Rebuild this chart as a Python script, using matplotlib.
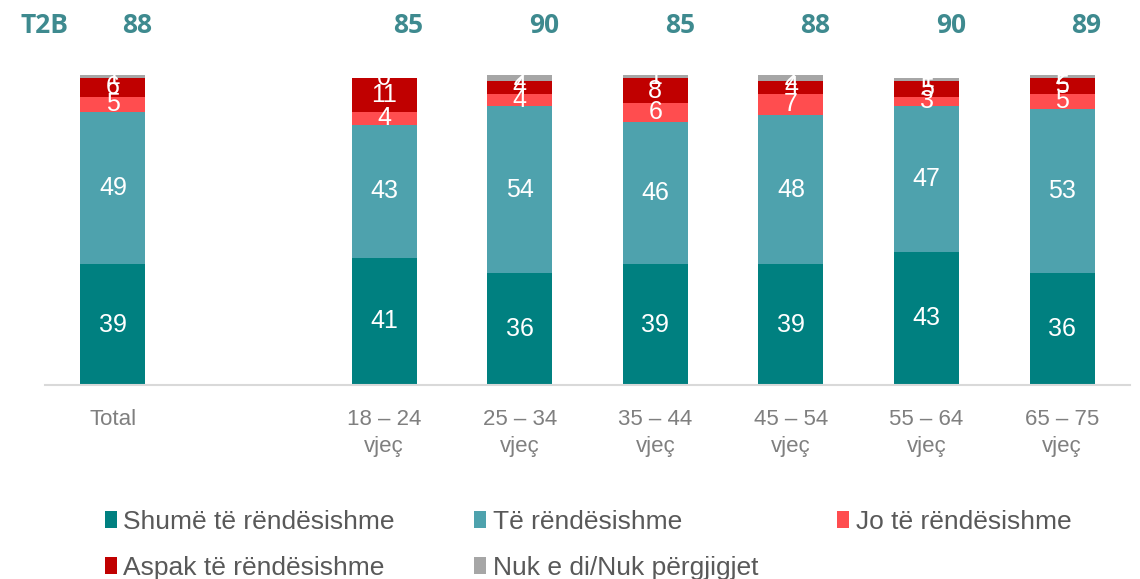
import matplotlib
matplotlib.use("Agg")
import matplotlib.pyplot as plt
import numpy as np

categories = ["Total", "18 – 24\nvjeç", "25 – 34\nvjeç", "35 – 44\nvjeç",
              "45 – 54\nvjeç", "55 – 64\nvjeç", "65 – 75\nvjeç"]
series_names = ["Shumë të rëndësishme", "Të rëndësishme", "Jo të rëndësishme",
                "Aspak të rëndësishme", "Nuk e di/Nuk përgjigjet"]
shume = [39, 41, 36, 39, 39, 43, 36]
te = [49, 43, 54, 46, 48, 47, 53]
jo = [5, 4, 4, 6, 7, 3, 5]
aspak = [6, 11, 4, 8, 4, 5, 5]
nuk = [1, 0, 2, 1, 2, 1, 2]
t2b = [88, 85, 90, 85, 88, 90, 89]

colors = ["#008080", "#4EA2AD", "#FF4D4F", "#C00000", "#A6A6A6"]
positions = [0, 2, 3, 4, 5, 6, 7]

plt.rcParams['font.family'] = ['Liberation Sans', 'DejaVu Sans']

fig = plt.figure(figsize=(11.4, 5.79), dpi=100)
ax = fig.add_axes([45/1140, 1 - 385/579, (1130-45)/1140, (385-75)/579])

series = [shume, te, jo, aspak, nuk]
bottom = np.zeros(len(categories))
handles = []
for name, vals, col in zip(series_names, series, colors):
    bars = ax.bar(positions, vals, bottom=bottom, width=0.48, color=col,
                  label=name, zorder=2)
    ax.bar_label(bars, labels=[str(v) for v in vals], label_type='center',
                 color='white', fontsize=18)
    handles.append(bars)
    bottom += np.array(vals)

ax.set_xlim(-0.5, 7.5)
ax.set_ylim(0, 100)
ax.set_yticks([])
ax.set_xticks(positions)
ax.set_xticklabels(categories, fontsize=16, color='#7F7F7F', linespacing=1.4)
ax.tick_params(axis='x', length=0, pad=17)
for s in ['top', 'right', 'left']:
    ax.spines[s].set_visible(False)
ax.spines['bottom'].set_color('#D9D9D9')
ax.spines['bottom'].set_linewidth(1.5)

t2b_color = '#3E8A8F'
ax.text(-0.68, 116, "T2B", color=t2b_color, fontsize=19, fontweight='bold',
        family=['Open Sans', 'DejaVu Sans'], ha='left', va='center', clip_on=False)
for p, v in zip(positions, t2b):
    ax.text(p + 0.18, 116, str(v), color=t2b_color, fontsize=19, fontweight='bold',
            family=['Open Sans', 'DejaVu Sans'], ha='center', va='center', clip_on=False)

order = [0, 3, 1, 4, 2]
leg = fig.legend([handles[i] for i in order], [series_names[i] for i in order],
                 ncol=3, loc='upper left', bbox_to_anchor=(105/1140, 1 - 510/579),
                 frameon=False, fontsize=19, handlelength=0.45, handleheight=0.6,
                 handletextpad=0.25, columnspacing=3.0, labelspacing=0.82,
                 borderpad=0, borderaxespad=0, labelcolor='#595959')

fig.savefig("out.png", dpi=100)
